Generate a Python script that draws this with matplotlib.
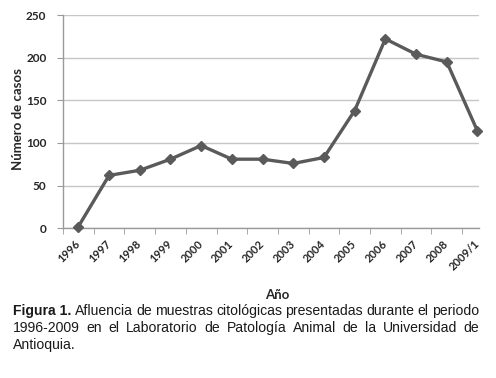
import matplotlib
matplotlib.use("Agg")
import matplotlib.pyplot as plt
import numpy as np

years = ["1996", "1997", "1998", "1999", "2000", "2001", "2002", "2003",
         "2004", "2005", "2006", "2007", "2008", "2009/1"]
casos = [2, 62, 68, 81, 97, 81, 81, 76, 83, 138, 222, 204, 195, 114]
y_ticks = [0, 50, 100, 150, 200, 250]

caption_bold = "Figura 1."
caption_lines = [
    "Afluencia de muestras citológicas presentadas durante el periodo",
    "1996-2009 en el Laboratorio de Patología Animal de la Universidad de",
    "Antioquia.",
]

LINE_COLOR = "#5a5a5a"
GRID_COLOR = "#c6c6c6"
TEXT_COLOR = "#262626"

fig = plt.figure(figsize=(4.96, 3.78), dpi=100)
ax = fig.add_axes([63 / 496, 1 - 228.3 / 378, 416 / 496, 213.3 / 378])

x = np.arange(len(years))
ax.plot(x, casos, color=LINE_COLOR, lw=2.4, marker="D", ms=5,
        mec=LINE_COLOR, mfc=LINE_COLOR, clip_on=False, zorder=3)

ax.set_xlim(-0.5, 13.05)
ax.set_ylim(0, 250)
ax.set_yticks(y_ticks)
ax.yaxis.grid(True, color=GRID_COLOR, lw=1)
ax.set_axisbelow(True)

ax.set_xticks(x)
ax.set_xticklabels(years, rotation=45, ha="right", va="center",
                   rotation_mode="anchor", fontsize=8, fontweight="bold",
                   family="Lato", color=TEXT_COLOR)
ax.set_xticks(np.arange(-0.5, 13.5, 1), minor=True)
ax.tick_params(axis="x", which="major", length=0, pad=10)
ax.tick_params(axis="x", which="minor", length=4, color="#9a9a9a", direction="out")
ax.tick_params(axis="y", length=4, color="#9a9a9a", pad=8)
for lab in ax.get_yticklabels():
    lab.set_fontsize(8.5)
    lab.set_fontweight("bold")
    lab.set_family("Lato")
    lab.set_color(TEXT_COLOR)

for side in ["top", "right"]:
    ax.spines[side].set_visible(False)
for side in ["left", "bottom"]:
    ax.spines[side].set_color("#9a9a9a")
    ax.spines[side].set_linewidth(1)

fig.text(18 / 496, 1 - 119 / 378, "Número de casos", rotation=90,
         ha="center", va="center", fontsize=9.5, fontweight="bold",
         family="Lato", color=TEXT_COLOR)
fig.text(277 / 496, 1 - 295 / 378, "Año", ha="center", va="center",
         fontsize=9.5, fontweight="bold", family="Lato", color=TEXT_COLOR)

# caption, justified by hand
renderer = fig.canvas.get_renderer()
left_px, right_px = 13, 479
line_y = [311, 328, 345]
fs = 10.1


def width_of(t):
    return t.get_window_extent(renderer=renderer).width


for i, line in enumerate(caption_lines):
    words = line.split(" ")
    pieces = []
    if i == 0:
        pieces.append((caption_bold, "bold"))
    pieces += [(w, "normal") for w in words]
    ypos = 1 - line_y[i] / 378
    texts = [fig.text(0, ypos, w, fontsize=fs, fontweight=wt,
                      family="Liberation Sans", color="#1a1a1a", va="center")
             for w, wt in pieces]
    widths = [width_of(t) for t in texts]
    if i < len(caption_lines) - 1:
        gap = (right_px - left_px - sum(widths)) / (len(texts) - 1)
    else:
        gap = 3
    xpos = left_px
    for t, w in zip(texts, widths):
        t.set_x(xpos / 496)
        xpos += w + gap

fig.savefig("out.png", dpi=100)
